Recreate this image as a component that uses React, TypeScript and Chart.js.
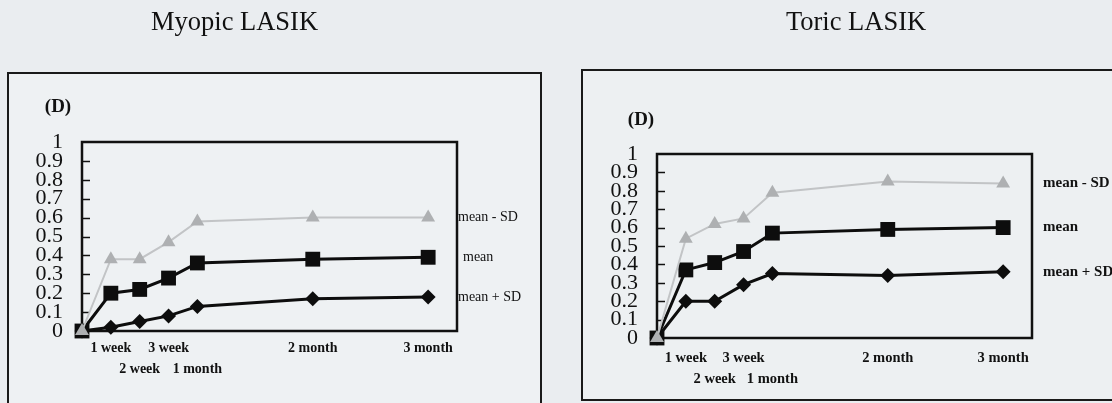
import React, { useEffect, useRef } from 'react';
import { Chart, registerables } from 'chart.js';

Chart.register(...registerables);

// ---------- data ----------
const weeks = [0, 1, 2, 3, 4, 8, 12];
const timeLabels = ['', '1 week', '2 week', '3 week', '1 month', '2 month', '3 month'];
const labelRow = [0, 0, 1, 0, 1, 0, 0];
const yTicks = [0, 0.1, 0.2, 0.3, 0.4, 0.5, 0.6, 0.7, 0.8, 0.9, 1];
const seriesNames = ['mean - SD', 'mean', 'mean + SD'];

const myopicMinusSD = [0, 0.38, 0.38, 0.47, 0.58, 0.6, 0.6];
const myopicMean = [0, 0.2, 0.22, 0.28, 0.36, 0.38, 0.39];
const myopicPlusSD = [0, 0.02, 0.05, 0.08, 0.13, 0.17, 0.18];

const toricMinusSD = [0, 0.54, 0.62, 0.65, 0.79, 0.85, 0.84];
const toricMean = [0, 0.37, 0.41, 0.47, 0.57, 0.59, 0.6];
const toricPlusSD = [0, 0.2, 0.2, 0.29, 0.35, 0.34, 0.36];

const FONT = "'Liberation Serif', 'Times New Roman', serif";

type Cfg = {
  title: string;
  left: number;
  width: number;
  padRight: number;
  padTop: number;
  yWidth: number;
  xHeight: number;
  yPad: number;
  xPad: number;
  xFont: number;
  xLine: number;
  labelBold: boolean;
  labelSize: number;
  labelDx: number[];
  unitDx: number;
  unitDy: number;
  titleX: number;
  series: number[][];
};

function makeDatasets(series: number[][]) {
  const styles = [
    { color: '#c2c4c6', fill: '#aeb0b2', width: 2, style: 'triangle', radius: 8 },
    { color: '#0d0d0d', fill: '#0d0d0d', width: 3, style: 'rect', radius: 10.5 },
    { color: '#0d0d0d', fill: '#0d0d0d', width: 3, style: 'rectRot', radius: 7.5 },
  ];
  return series.map((vals, i) => ({
    label: seriesNames[i],
    data: vals.map((v, j) => ({ x: weeks[j], y: v })),
    borderColor: styles[i].color,
    borderWidth: styles[i].width,
    pointStyle: styles[i].style,
    pointRadius: styles[i].radius,
    pointBackgroundColor: styles[i].fill,
    pointBorderColor: styles[i].fill,
    pointBorderWidth: 0,
    tension: 0,
    clip: false as any,
  }));
}

function decorPlugin(cfg: Cfg) {
  return {
    id: 'decor',
    beforeDatasetsDraw(chart: any) {
      const { ctx, chartArea: a, scales } = chart;
      const y = scales.y;
      ctx.save();
      ctx.strokeStyle = '#111';
      ctx.lineWidth = 1.5;
      for (const v of yTicks) {
        if (v === 0 || v === 1) continue;
        const py = Math.round(y.getPixelForValue(v)) + 0.5;
        ctx.beginPath();
        ctx.moveTo(a.left, py);
        ctx.lineTo(a.left + 8, py);
        ctx.stroke();
      }
      ctx.lineWidth = 2.5;
      ctx.strokeRect(a.left, a.top, a.right - a.left, a.bottom - a.top);
      ctx.restore();
    },
    afterDraw(chart: any) {
      const { ctx, chartArea: a, scales } = chart;
      const y = scales.y;
      ctx.save();
      ctx.fillStyle = '#111';
      ctx.textBaseline = 'middle';
      ctx.textAlign = 'left';
      ctx.font = `${cfg.labelBold ? 'bold ' : ''}${cfg.labelSize}px ${FONT}`;
      chart.data.datasets.forEach((ds: any, i: number) => {
        const last = ds.data[ds.data.length - 1].y;
        ctx.fillText(ds.label, a.right + cfg.labelDx[i], y.getPixelForValue(last));
      });
      ctx.font = `bold 19px ${FONT}`;
      ctx.textAlign = 'center';
      ctx.fillText('(D)', a.left + cfg.unitDx, a.top + cfg.unitDy);
      ctx.font = `26.5px ${FONT}`;
      ctx.textBaseline = 'alphabetic';
      ctx.fillText(cfg.title, cfg.titleX, 30);
      ctx.restore();
    },
  };
}

function LineChart({ cfg }: { cfg: Cfg }) {
  const ref = useRef<HTMLCanvasElement>(null);
  useEffect(() => {
    if (!ref.current) return;
    const chart = new Chart(ref.current, {
      type: 'line',
      data: { datasets: makeDatasets(cfg.series) as any },
      options: {
        responsive: false,
        animation: false,
        layout: { padding: { left: 0, right: cfg.padRight, top: cfg.padTop, bottom: 0 } },
        plugins: {
          legend: { display: false },
          tooltip: { enabled: false },
          title: { display: false },
        },
        scales: {
          x: {
            type: 'linear',
            min: 0,
            max: 13,
            grid: { display: false, drawTicks: false },
            border: { display: false },
            afterBuildTicks: (s: any) => {
              s.ticks = weeks.slice(1).map((v) => ({ value: v }));
            },
            afterFit: (s: any) => {
              s.height = cfg.xHeight;
            },
            ticks: {
              autoSkip: false,
              maxRotation: 0,
              minRotation: 0,
              padding: cfg.xPad,
              color: '#111',
              font: { family: FONT, size: cfg.xFont, weight: 'bold', lineHeight: cfg.xLine },
              callback: (v: any) => {
                const i = weeks.indexOf(Number(v));
                if (i < 0) return '';
                return labelRow[i] ? ['', timeLabels[i]] : timeLabels[i];
              },
            },
          },
          y: {
            type: 'linear',
            min: 0,
            max: 1,
            grid: { display: false, drawTicks: false },
            border: { display: false },
            afterBuildTicks: (s: any) => {
              s.ticks = yTicks.map((v) => ({ value: v }));
            },
            afterFit: (s: any) => {
              s.width = cfg.yWidth;
            },
            ticks: {
              autoSkip: false,
              padding: cfg.yPad,
              color: '#111',
              font: { family: FONT, size: 22, lineHeight: 0.85 },
              callback: (v: any) => String(Number(Number(v).toFixed(1))),
            },
          },
        },
      } as any,
      plugins: [decorPlugin(cfg)],
    });
    return () => chart.destroy();
  }, []);
  return (
    <canvas
      ref={ref}
      width={cfg.width}
      height={403}
      style={{ position: 'absolute', left: cfg.left, top: 0, width: cfg.width, height: 403 }}
    />
  );
}

const myopicCfg: Cfg = {
  title: 'Myopic LASIK',
  left: 0,
  width: 560,
  padRight: 103,
  padTop: 142,
  yWidth: 82,
  xHeight: 72,
  yPad: 19,
  xPad: 6.5,
  xFont: 14,
  xLine: 1.5,
  labelBold: false,
  labelSize: 14,
  labelDx: [1, 6, 1],
  unitDx: -24,
  unitDy: -35,
  titleX: 234.5,
  series: [myopicMinusSD, myopicMean, myopicPlusSD],
};

const toricCfg: Cfg = {
  title: 'Toric LASIK',
  left: 560,
  width: 552,
  padRight: 80,
  padTop: 154,
  yWidth: 97,
  xHeight: 65,
  yPad: 19,
  xPad: 9.5,
  xFont: 14.5,
  xLine: 1.45,
  labelBold: true,
  labelSize: 15,
  labelDx: [11, 11, 11],
  unitDx: -16,
  unitDy: -34,
  titleX: 296,
  series: [toricMinusSD, toricMean, toricPlusSD],
};

export default function App() {
  return (
    <div
      style={{
        position: 'fixed',
        left: 0,
        top: 0,
        width: 1112,
        height: 403,
        overflow: 'hidden',
        background: '#eaedf0',
      }}
    >
      <div
        style={{
          position: 'absolute',
          left: 7,
          top: 72,
          width: 535,
          height: 360,
          boxSizing: 'border-box',
          border: '2px solid #1a1a1a',
          background: '#eef1f3',
        }}
      />
      <div
        style={{
          position: 'absolute',
          left: 581,
          top: 69,
          width: 600,
          height: 332,
          boxSizing: 'border-box',
          border: '2px solid #1a1a1a',
          background: '#edf0f2',
        }}
      />
      <LineChart cfg={myopicCfg} />
      <LineChart cfg={toricCfg} />
    </div>
  );
}
